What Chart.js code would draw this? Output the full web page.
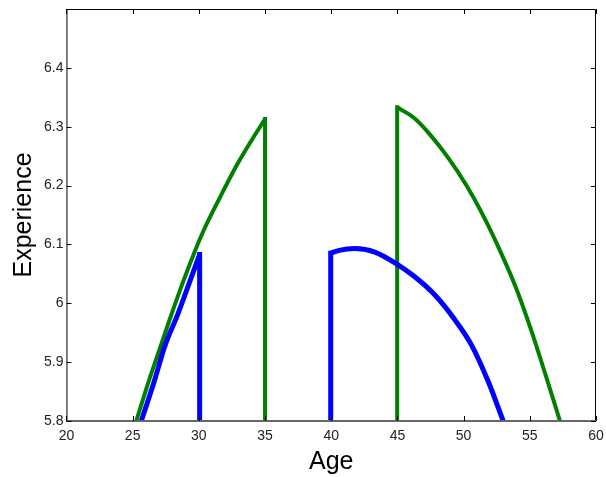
<!DOCTYPE html>
<html><head><meta charset="utf-8">
<script src="https://cdn.jsdelivr.net/npm/chart.js@4.4.1/dist/chart.umd.min.js"></script>
<style>html,body{margin:0;padding:0;background:#fff;}#wrap{width:606px;height:477px;}</style>
</head><body><div id="wrap"><canvas id="c" width="606" height="477"></canvas></div>
<script>
const xTicks = [20,25,30,35,40,45,50,55,60];
const yTicks = [5.8,5.9,6.0,6.1,6.2,6.3,6.4];
// Blue series: rising curve, drop at 30, jump at 40, falling curve
const blueAge1 = [25.65,26.65,27.41,28.42,29.43,30.06];
const blueExp1 = [5.80,5.869,5.926,5.982,6.044,6.083];
const blueDropAge = [30.06,30.06];
const blueDropExp = [6.083,5.80];
const blueJumpAge = [39.96,39.96];
const blueJumpExp = [5.80,6.085];
const blueAge2 = [39.96,40.6,41.78,43.29,44.93,46.31,47.83,49.34,50.6,51.86,52.99];
const blueExp2 = [6.085,6.090,6.093,6.087,6.067,6.045,6.014,5.972,5.929,5.867,5.80];
// Green series
const greenAge1 = [25.27,26.28,27.16,27.79,28.8,29.8,30.43,31.6,32.85,34.07,35.0];
const greenExp1 = [5.80,5.872,5.930,5.972,6.036,6.094,6.127,6.180,6.234,6.280,6.313];
const greenDropAge = [35.0,35.0];
const greenDropExp = [6.313,5.80];
const greenJumpAge = [44.98,44.98];
const greenJumpExp = [5.80,6.333];
const greenAge2 = [44.98,46.2,47.45,48.84,50.22,51.48,52.74,54.0,55.14,56.14,57.28];
const greenExp2 = [6.333,6.316,6.287,6.247,6.2,6.149,6.09,6.024,5.952,5.882,5.80];

function pts(a,b){return a.map((x,i)=>({x:x,y:b[i]}));}
function curve(a,b,color,w){return {data:pts(a,b),borderColor:color,borderWidth:w,pointRadius:0,cubicInterpolationMode:'monotone',fill:false,borderCapStyle:'butt',borderJoinStyle:'round'};}
function straight(a,b,color,w){return {data:pts(a,b),borderColor:color,borderWidth:w,pointRadius:0,tension:0,fill:false,borderCapStyle:'square'};}

const boxPlugin = {
  id:'box',
  afterDraw(chart){
    const {ctx, chartArea:a, scales:{x,y}} = chart;
    ctx.save();
    ctx.strokeStyle='#000';ctx.lineWidth=1;
    ctx.beginPath();
    ctx.moveTo(a.left+0.5,a.bottom);ctx.lineTo(a.left+0.5,a.top+0.5);ctx.lineTo(a.right-0.5,a.top+0.5);ctx.lineTo(a.right-0.5,a.bottom);
    ctx.stroke();
    ctx.strokeStyle='#666';ctx.lineWidth=2;
    ctx.beginPath();ctx.moveTo(a.left,a.bottom);ctx.lineTo(a.right,a.bottom);ctx.stroke();
    ctx.strokeStyle='#000';ctx.lineWidth=1;
    ctx.beginPath();
    xTicks.forEach(v=>{const px=Math.round(x.getPixelForValue(v))+0.5;
      ctx.moveTo(px,a.bottom);ctx.lineTo(px,a.bottom-5);
      ctx.moveTo(px,a.top);ctx.lineTo(px,a.top+5);});
    yTicks.forEach(v=>{const py=Math.round(y.getPixelForValue(v))+0.5;
      ctx.moveTo(a.left,py);ctx.lineTo(a.left+5,py);
      ctx.moveTo(a.right,py);ctx.lineTo(a.right-5,py);});
    ctx.stroke();
    ctx.restore();
  }
};

new Chart(document.getElementById('c'),{
  type:'line',
  data:{datasets:[
    curve(blueAge1,blueExp1,'#0000ff',5),
    straight(blueDropAge,blueDropExp,'#0000ff',5),
    straight(blueJumpAge,blueJumpExp,'#0000ff',5),
    curve(blueAge2,blueExp2,'#0000ff',5),
    curve(greenAge1,greenExp1,'#008000',4),
    straight(greenDropAge,greenDropExp,'#008000',4),
    straight(greenJumpAge,greenJumpExp,'#008000',4),
    curve(greenAge2,greenExp2,'#008000',4)
  ]},
  options:{
    responsive:false,animation:false,
    layout:{padding:{top:9,right:2,left:7,bottom:0}},
    plugins:{legend:{display:false},tooltip:{enabled:false}},
    scales:{
      x:{type:'linear',min:20,max:60,
        afterBuildTicks(s){s.ticks=xTicks.map(v=>({value:v}));},
        afterFit(s){s.height=56;s.paddingRight=10;},
        grid:{display:false,drawTicks:false},border:{display:false},
        ticks:{color:'#222',font:{family:'Liberation Sans, Arial',size:14},padding:7,maxRotation:0,autoSkip:false},
        title:{display:true,text:'Age',color:'#000',font:{family:'Liberation Sans, Arial',size:25},padding:{top:4,bottom:0}}},
      y:{type:'linear',min:5.8,max:6.5,
        afterBuildTicks(s){s.ticks=yTicks.map(v=>({value:v}));},
        afterFit(s){s.paddingTop=0;s.paddingBottom=0;},
        grid:{display:false,drawTicks:false},border:{display:false},
        ticks:{color:'#222',font:{family:'Liberation Sans, Arial',size:14,lineHeight:1},padding:3,autoSkip:false,
          callback:v=>String(Math.round(v*10)/10)},
        title:{display:true,text:'Experience',color:'#000',font:{family:'Liberation Sans, Arial',size:25},padding:{top:2,bottom:2}}}
    }
  },
  plugins:[boxPlugin]
});
</script></body></html>
